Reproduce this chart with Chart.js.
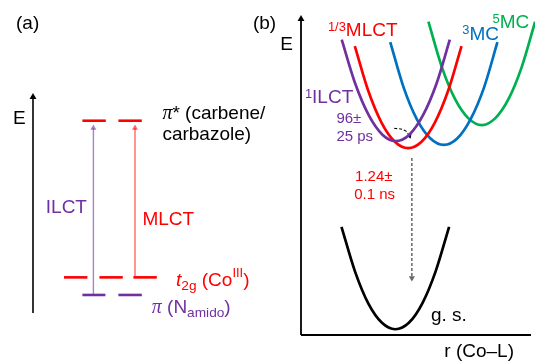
<!DOCTYPE html>
<html>
<head>
<meta charset="utf-8">
<script src="https://cdn.jsdelivr.net/npm/chart.js@4.4.1/dist/chart.umd.min.js"></script>
<style>
  body { margin: 0; background: #fff; }
  .panel { position: absolute; top: 0; height: 363px; }
  #boxA { left: 0; width: 300px; }
  #boxB { left: 245px; width: 290px; }
</style>
</head>
<body>
<div class="panel" id="boxA"><canvas id="chartA"></canvas></div>
<div class="panel" id="boxB"><canvas id="chartB"></canvas></div>
<script>
// ---- panel (a): orbital levels (x = slot position, y = energy) ----
const levelE = [8.74, 1.62, 0.82];               // pi*, t2g, pi
const levelSegs = [
  [[2.47, 3.64], [4.27, 5.44]],
  [[1.55, 2.72], [3.32, 4.49], [5.02, 6.19]],
  [[2.47, 3.62], [4.27, 5.44]]
];
const transX = [3.02, 5.10];                     // ILCT, MLCT
const transFrom = [0.82, 1.62];
const transTo = [8.41, 8.41];

// ---- panel (b): potential energy curves, r (Co-L) vs E ----
const ilctR = [1.77, 2.36, 2.95, 3.54, 4.12, 4.71, 5.30, 5.89, 6.47];
const ilctE = [9.23, 7.85, 6.86, 6.26, 6.06, 6.26, 6.86, 7.85, 9.23];
const mlctR = [2.34, 2.92, 3.50, 4.08, 4.66, 5.24, 5.82, 6.40, 6.98];
const mlctE = [9.03, 7.64, 6.64, 6.04, 5.84, 6.04, 6.64, 7.64, 9.03];
const mc3R = [3.88, 4.46, 5.04, 5.63, 6.21, 6.79, 7.37, 7.96, 8.54];
const mc3E = [9.15, 7.74, 6.74, 6.14, 5.94, 6.14, 6.74, 7.74, 9.15];
const mc5R = [5.54, 6.12, 6.70, 7.28, 7.86, 8.44, 9.02, 9.60, 10.18];
const mc5E = [9.79, 8.38, 7.37, 6.77, 6.56, 6.77, 7.37, 8.38, 9.79];
const gsR = [1.76, 2.35, 2.93, 3.52, 4.10, 4.69, 5.27, 5.85, 6.44];
const gsE = [3.38, 1.98, 0.98, 0.38, 0.18, 0.38, 0.98, 1.98, 3.38];
const decayR = [4.82, 4.82];
const decayE = [5.53, 1.78];
const iscR = [4.05, 4.50, 4.72];
const iscE = [6.46, 6.40, 6.22];

const RED = '#ff0000', PURPLE = '#7030a0', BLUE = '#0070c0', GREEN = '#00b050';
const SANS = '"Liberation Sans", Arial, sans-serif';
const SERIF = '"Liberation Serif", "Times New Roman", serif';

function pts(xs, ys) {
  return xs.map((x, i) => ({ x: x, y: ys[i] }));
}

function lineSet(data, color, width, extra) {
  return Object.assign({
    data: data,
    showLine: true,
    borderColor: color,
    backgroundColor: color,
    borderWidth: width,
    pointRadius: 0,
    clip: false
  }, extra || {});
}

function arrowSet(data, color, width, rotation, extra) {
  const radius = data.map((p, i) => i === data.length - 1 ? 4 : 0);
  return lineSet(data, color, width, Object.assign({
    pointRadius: radius,
    pointStyle: 'triangle',
    pointRotation: rotation,
    pointBorderWidth: 0
  }, extra || {}));
}

function drawRich(ctx, label) {
  const size = label.size || 19;
  let cx = label.px;
  ctx.fillStyle = label.color || '#000';
  ctx.textBaseline = 'alphabetic';
  ctx.textAlign = 'left';
  label.parts.forEach(part => {
    const text = part[0], kind = part[1];
    let fs = size, dy = 0, style = '', fam = SANS;
    if (kind === 'sup') { fs = size * 0.68; dy = -size * 0.29; }
    if (kind === 'sub') { fs = size * 0.72; dy = size * 0.22; }
    if (kind === 'it') { style = 'italic '; }
    if (kind === 'pi') { style = 'italic '; fam = SERIF; fs = size * 1.05; }
    if (part[2] !== undefined) dy = part[2];
    ctx.font = style + fs + 'px ' + fam;
    ctx.fillText(text, cx, label.py + dy);
    cx += ctx.measureText(text).width;
  });
}

const textPlugin = {
  id: 'textLabels',
  afterDraw(chart, args, opts) {
    const ctx = chart.ctx;
    ctx.save();
    opts.labels.forEach(l => {
      drawRich(ctx, Object.assign({}, l, {
        px: chart.scales.x.getPixelForValue(l.x),
        py: chart.scales.y.getPixelForValue(l.y)
      }));
    });
    ctx.restore();
  }
};

function baseOptions(padding, xMin, xMax, labels) {
  return {
    responsive: true,
    maintainAspectRatio: false,
    animation: false,
    events: [],
    layout: { padding: padding },
    scales: {
      x: { type: 'linear', display: false, min: xMin, max: xMax },
      y: { type: 'linear', display: false, min: 0, max: 10 }
    },
    plugins: {
      legend: { display: false },
      tooltip: { enabled: false },
      textLabels: { labels: labels }
    }
  };
}

// ---- chart (a) ----
const levelColors = [RED, RED, PURPLE];
const dsA = [];
dsA.push(arrowSet(pts([0, 0], [0, 9.82]), '#000', 1.6, 0));
levelSegs.forEach((segs, i) => {
  segs.forEach(s => {
    dsA.push(lineSet(pts(s, [levelE[i], levelE[i]]), levelColors[i], 2.6));
  });
});
const transColors = ['rgba(112,48,160,0.6)', 'rgba(255,0,0,0.6)'];
transX.forEach((x, i) => {
  dsA.push(arrowSet(pts([x, x], [transFrom[i], transTo[i]]), transColors[i], 1.4, 0,
    { pointRadius: [0, 3.5] }));
});

const labelsA = [
  { x: -0.85, y: 12.9, parts: [['(a)']] },
  { x: -1.0, y: 8.59, parts: [['E']] },
  { x: 6.47, y: 8.82, parts: [['π', 'pi'], ['*'], [' (carbene/']] },
  { x: 6.47, y: 7.86, parts: [['carbazole)']] },
  { x: 0.64, y: 4.56, color: PURPLE, parts: [['ILCT']] },
  { x: 5.47, y: 4.0, color: RED, parts: [['MLCT']] },
  { x: 7.15, y: 1.23, color: RED, parts: [['t', 'it'], ['2g', 'sub', 4], [' (Co'], ['III', 'sup', -8.5], [')']] },
  { x: 5.94, y: 0.02, color: PURPLE, parts: [['π', 'pi'], [' (N'], ['amido', 'sub', 4], [')']] }
];

new Chart(document.getElementById('chartA'), {
  type: 'scatter',
  data: { datasets: dsA },
  options: baseOptions({ left: 33, top: 93, right: 67, bottom: 50 }, 0, 10, labelsA),
  plugins: [textPlugin]
});

// ---- chart (b) ----
const curveOpts = { cubicInterpolationMode: 'monotone' };
const dsB = [
  arrowSet(pts([0, 0], [0, 9.875]), '#000', 1.8, 0),
  lineSet(pts([0, 10], [0, 0]), '#000', 1.8),
  lineSet(pts(ilctR, ilctE), PURPLE, 2.7, curveOpts),
  lineSet(pts(mlctR, mlctE), RED, 2.7, curveOpts),
  lineSet(pts(mc3R, mc3E), BLUE, 2.7, curveOpts),
  lineSet(pts(mc5R, mc5E), GREEN, 2.7, curveOpts),
  lineSet(pts(gsR, gsE), '#000', 2.7, curveOpts),
  arrowSet(pts(decayR, decayE), '#666', 1.5, 180, { borderDash: [3, 2], pointRadius: [0, 3.5] }),
  arrowSet(pts(iscR, iscE), '#000', 1.1, 160, { borderDash: [3, 2], tension: 0.5, pointRadius: [0, 0, 3] })
];

const labelsB = [
  { x: -2.09, y: 9.56, parts: [['(b)']] },
  { x: -0.90, y: 8.91, parts: [['E']] },
  { x: 1.17, y: 9.34, color: RED, parts: [['1/3', 'sup'], ['MLCT']] },
  { x: 7.01, y: 9.22, color: BLUE, parts: [['3', 'sup'], ['MC']] },
  { x: 8.33, y: 9.58, color: GREEN, parts: [['5', 'sup'], ['MC']] },
  { x: 0.17, y: 7.24, color: PURPLE, parts: [['1', 'sup'], ['ILCT']] },
  { x: 1.54, y: 6.62, color: PURPLE, size: 15, parts: [['96±']] },
  { x: 1.54, y: 6.06, color: PURPLE, size: 15, parts: [['25 ps']] },
  { x: 2.35, y: 4.81, color: RED, size: 15, parts: [['1.24±']] },
  { x: 2.31, y: 4.25, color: RED, size: 15, parts: [['0.1 ns']] },
  { x: 5.65, y: 0.44, parts: [['g. s.']] },
  { x: 6.23, y: -0.69, parts: [['r (Co–L)']] }
];

new Chart(document.getElementById('chartB'), {
  type: 'scatter',
  data: { datasets: dsB },
  options: baseOptions({ left: 56, top: 15, right: 0, bottom: 28 }, 0, 10, labelsB),
  plugins: [textPlugin]
});
</script>
</body>
</html>
